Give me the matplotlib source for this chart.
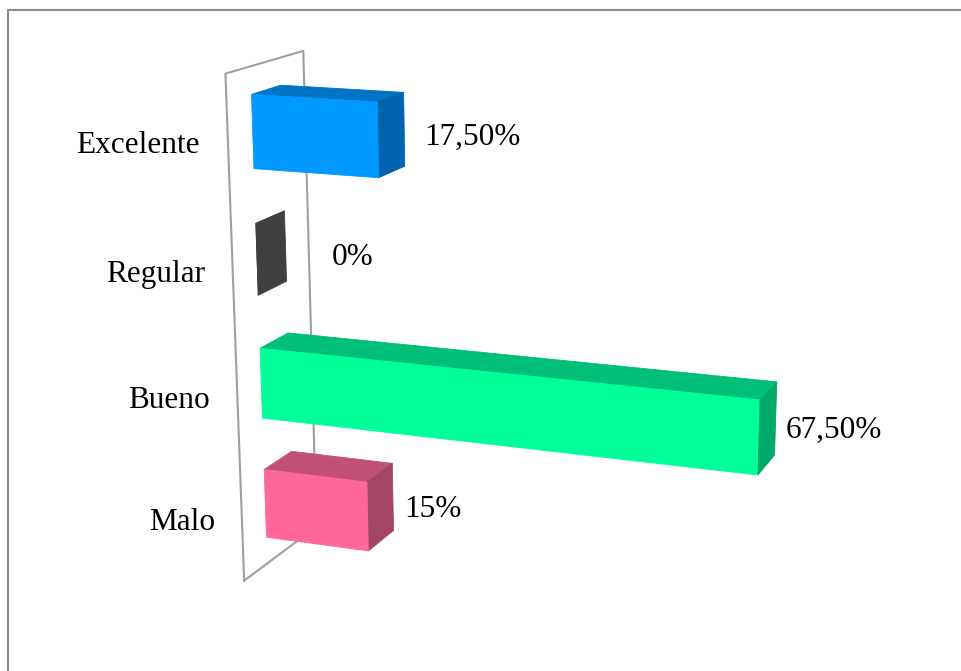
import numpy as np
import matplotlib
matplotlib.use("Agg")
import matplotlib.pyplot as plt
from matplotlib.patches import Rectangle

categories = ["Excelente", "Regular", "Bueno", "Malo"]
values = [17.5, 0.0, 67.5, 15.0]
value_labels = ["17,50%", "0%", "67,50%", "15%"]
label_gap = [4.6, 8.7, 2.25, 3.4]  # space between bar end and its label, value units

front_colors = ["#0099ff", "#404040", "#00ff99", "#ff6699"]
top_colors = ["#0073c6", "#404040", "#00bf78", "#c05078"]
side_colors = ["#0064ae", "#404040", "#00a86a", "#a64468"]

W, H = 961, 671
fig = plt.figure(figsize=(W / 100, H / 100), dpi=100)
fig.patches.append(Rectangle((8 / W, -0.1), 1.1, (H - 10) / H + 0.1,
                             transform=fig.transFigure, fill=False,
                             edgecolor="#8c8c8c", linewidth=1.5))

# square 3d axes; the camera looks at the middle of the data box
S = 776
cx, cy = 521.3, 350.4
ax = fig.add_axes([(cx - S / 2) / W, (H - cy - S / 2) / H, S / W, S / H],
                  projection="3d")
ax.set_proj_type("persp", focal_length=0.523)
ax.view_init(elev=15.3, azim=-69.77)
ax.set_box_aspect((1, 0.301, 0.922))
ax.set_xlim(0, 72.95)
ax.set_ylim(0, 1)
zlo, zhi = -0.51, 3.5
ax.set_zlim(zlo, zhi)
ax.set_axis_off()
ax.computed_zorder = False

n = len(categories)
zc = np.arange(n)[::-1].astype(float)
bar_h = 0.572
y0, dy = 0.307, 0.376

# face order in bar3d: -z, +z, -y, +y, -x, +x
clear = (1, 1, 1, 0)
face_colors = []
for f, t, s in zip(front_colors, top_colors, side_colors):
    face_colors += [clear, t, f, clear, clear, s]

# back wall outline at value 0
ax.plot([0, 0, 0, 0, 0], [0, 1, 1, 0, 0], [zlo, zlo, zhi, zhi, zlo],
        color="#a0a0a0", linewidth=1.5, zorder=1, clip_on=False)

ax.bar3d(np.zeros(n), np.full(n, y0), zc - bar_h / 2, values,
         np.full(n, dy), np.full(n, bar_h), color=face_colors,
         edgecolor=face_colors, linewidth=0.6, shade=False, zorder=2)

font = dict(fontsize=22.5, family="Liberation Serif", zorder=3)
for z, cat in zip(zc, categories):
    ax.text(-4, 0, z - 0.05, cat, ha="right", va="center", **font)
for v, lab, gap, z in zip(values, value_labels, label_gap, zc):
    ax.text(v + gap, y0 + dy / 2, z, lab, ha="left", va="center", **font)

fig.savefig("out.png", dpi=100)
